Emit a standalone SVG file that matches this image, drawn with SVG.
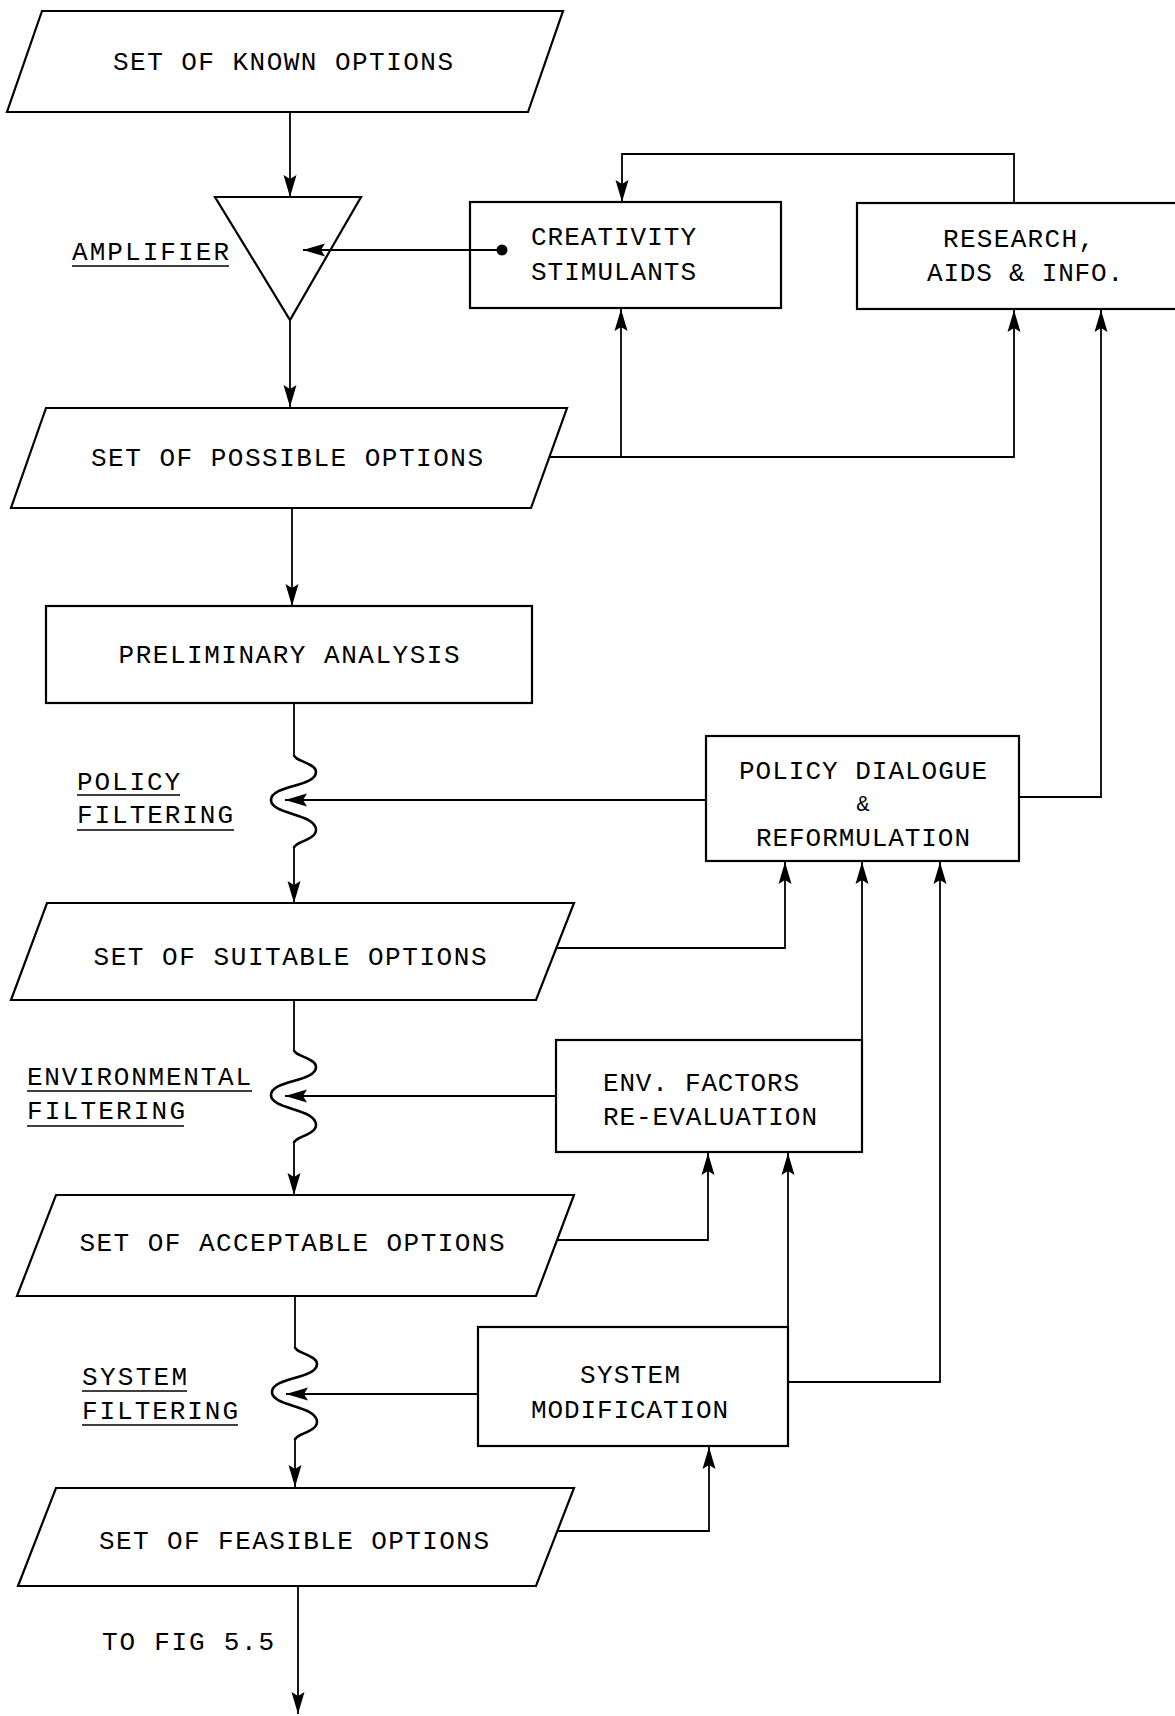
<svg xmlns="http://www.w3.org/2000/svg" width="1175" height="1716" viewBox="0 0 1175 1716">
<style>
.shape{fill:#fff;stroke:#000;stroke-width:2.2}
.conn{fill:none;stroke:#000;stroke-width:1.8}
.wave{fill:none;stroke:#000;stroke-width:2.6}
.t{font-family:"Liberation Mono","DejaVu Sans Mono",monospace;font-size:26px;fill:#000}
.c{text-anchor:middle}
.ul{stroke:#000;stroke-width:1.6}
</style>
<defs>
<marker id="ah" markerUnits="userSpaceOnUse" markerWidth="24" markerHeight="16" refX="22" refY="8" orient="auto" viewBox="0 0 24 16">
<path d="M0,1.5 L22,8 L0,14.5 L4,8 z" fill="#000"/>
</marker>
</defs>
<rect width="1175" height="1716" fill="#fff"/>

<g id="known">
<polygon class="shape" points="42,11 563,11 528,112 7,112"/>
<text class="t c" x="283" y="70" textLength="340" lengthAdjust="spacing">SET OF KNOWN OPTIONS</text>
</g>

<g id="amplifier">
<polygon class="shape" style="fill:none" points="215,197 361,197 290,320"/>
<text class="t" x="72" y="260" textLength="157" lengthAdjust="spacing">AMPLIFIER</text>
<line class="ul" x1="72" y1="266" x2="229" y2="266"/>
</g>

<g id="creativity">
<rect class="shape" x="470" y="202" width="311" height="106"/>
<text class="t" x="531" y="245" textLength="165" lengthAdjust="spacing">CREATIVITY</text>
<text class="t" x="531" y="280" textLength="165" lengthAdjust="spacing">STIMULANTS</text>
</g>

<g id="research">
<rect class="shape" x="857" y="203" width="330" height="106"/>
<text class="t" x="943" y="247" textLength="151" lengthAdjust="spacing">RESEARCH,</text>
<text class="t" x="927" y="281" textLength="196" lengthAdjust="spacing">AIDS &amp; INFO.</text>
</g>

<g id="possible">
<polygon class="shape" points="46,408 567,408 531,508 11,508"/>
<text class="t c" x="287" y="466" textLength="392" lengthAdjust="spacing">SET OF POSSIBLE OPTIONS</text>
</g>

<g id="preliminary">
<rect class="shape" x="46" y="606" width="486" height="97"/>
<text class="t c" x="289" y="663" textLength="341" lengthAdjust="spacing">PRELIMINARY ANALYSIS</text>
</g>

<g id="policy-filtering">
<text class="t" x="77" y="790" textLength="103" lengthAdjust="spacing">POLICY</text>
<line class="ul" x1="77" y1="795" x2="180" y2="795"/>
<text class="t" x="77" y="823" textLength="156" lengthAdjust="spacing">FILTERING</text>
<line class="ul" x1="77" y1="830" x2="234" y2="830"/>
</g>

<g id="policy-dialogue">
<rect class="shape" x="706" y="736" width="313" height="125"/>
<text class="t c" x="863" y="779" textLength="248" lengthAdjust="spacing">POLICY DIALOGUE</text>
<text class="t c" x="863" y="811" style="font-size:22px">&amp;</text>
<text class="t c" x="863" y="846" textLength="214" lengthAdjust="spacing">REFORMULATION</text>
</g>

<g id="suitable">
<polygon class="shape" points="47,903 574,903 536,1000 11,1000"/>
<text class="t c" x="290" y="965" textLength="393" lengthAdjust="spacing">SET OF SUITABLE OPTIONS</text>
</g>

<g id="env-filtering">
<text class="t" x="27" y="1085" textLength="224" lengthAdjust="spacing">ENVIRONMENTAL</text>
<line class="ul" x1="27" y1="1091" x2="252" y2="1091"/>
<text class="t" x="27" y="1119" textLength="158" lengthAdjust="spacing">FILTERING</text>
<line class="ul" x1="27" y1="1126" x2="184" y2="1126"/>
</g>

<g id="env-factors">
<rect class="shape" x="556" y="1040" width="306" height="112"/>
<text class="t" x="603" y="1091" textLength="196" lengthAdjust="spacing">ENV. FACTORS</text>
<text class="t" x="603" y="1125" textLength="214" lengthAdjust="spacing">RE-EVALUATION</text>
</g>

<g id="acceptable">
<polygon class="shape" points="56,1195 574,1195 536,1296 17,1296"/>
<text class="t c" x="292" y="1251" textLength="425" lengthAdjust="spacing">SET OF ACCEPTABLE OPTIONS</text>
</g>

<g id="system-filtering">
<text class="t" x="82" y="1385" textLength="105" lengthAdjust="spacing">SYSTEM</text>
<line class="ul" x1="82" y1="1391" x2="187" y2="1391"/>
<text class="t" x="82" y="1419" textLength="156" lengthAdjust="spacing">FILTERING</text>
<line class="ul" x1="82" y1="1425" x2="238" y2="1425"/>
</g>

<g id="system-modification">
<rect class="shape" x="478" y="1327" width="310" height="119"/>
<text class="t" x="580" y="1383" textLength="100" lengthAdjust="spacing">SYSTEM</text>
<text class="t" x="531" y="1418" textLength="197" lengthAdjust="spacing">MODIFICATION</text>
</g>

<g id="feasible">
<polygon class="shape" points="56,1488 574,1488 536,1586 18,1586"/>
<text class="t c" x="294" y="1549" textLength="390" lengthAdjust="spacing">SET OF FEASIBLE OPTIONS</text>
</g>

<g id="to-fig">
<text class="t" x="102" y="1650" textLength="172" lengthAdjust="spacing">TO FIG 5.5</text>
</g>

<g id="connectors">
<path class="conn" d="M290,112 V197" marker-end="url(#ah)"/>
<path class="conn" d="M502,250 H303" marker-end="url(#ah)"/>
<circle cx="502" cy="250" r="5.5" fill="#000"/>
<path class="conn" d="M290,321 V407" marker-end="url(#ah)"/>
<path class="conn" d="M549,457 H1014 V310" marker-end="url(#ah)"/>
<path class="conn" d="M621,457 V309" marker-end="url(#ah)"/>
<path class="conn" d="M1014,203 V154 H622 V202" marker-end="url(#ah)"/>
<path class="conn" d="M292,508 V606" marker-end="url(#ah)"/>
<path class="conn" d="M294,703 V755"/>
<path class="wave" d="M294,755 C294,761 316,763 316,772 C316,787 271,785 271,800 C271,815 316,813 316,830 C316,840 294,842 294,848"/>
<path class="conn" d="M294,848 V903" marker-end="url(#ah)"/>
<path class="conn" d="M706,800 H285" marker-end="url(#ah)"/>
<path class="conn" d="M1018,797 H1101 V310" marker-end="url(#ah)"/>
<path class="conn" d="M556,948 H785 V862" marker-end="url(#ah)"/>
<path class="conn" d="M862,1040 V862" marker-end="url(#ah)"/>
<path class="conn" d="M294,1000 V1050"/>
<path class="wave" d="M294,1050 C294,1056 316,1058 316,1067 C316,1082 271,1080 271,1095 C271,1110 316,1108 316,1125 C316,1135 294,1137 294,1143"/>
<path class="conn" d="M294,1143 V1195" marker-end="url(#ah)"/>
<path class="conn" d="M556,1096 H285" marker-end="url(#ah)"/>
<path class="conn" d="M557,1240 H708 V1153" marker-end="url(#ah)"/>
<path class="conn" d="M788,1327 V1153" marker-end="url(#ah)"/>
<path class="conn" d="M788,1382 H940 V862" marker-end="url(#ah)"/>
<path class="conn" d="M295,1296 V1347"/>
<path class="wave" d="M295,1347 C295,1353 317,1355 317,1364 C317,1379 272,1377 272,1392 C272,1407 317,1405 317,1422 C317,1432 295,1434 295,1440"/>
<path class="conn" d="M295,1440 V1487" marker-end="url(#ah)"/>
<path class="conn" d="M478,1394 H286" marker-end="url(#ah)"/>
<path class="conn" d="M557,1531 H709 V1447" marker-end="url(#ah)"/>
<path class="conn" d="M298,1586 V1714" marker-end="url(#ah)"/>
</g>
</svg>
